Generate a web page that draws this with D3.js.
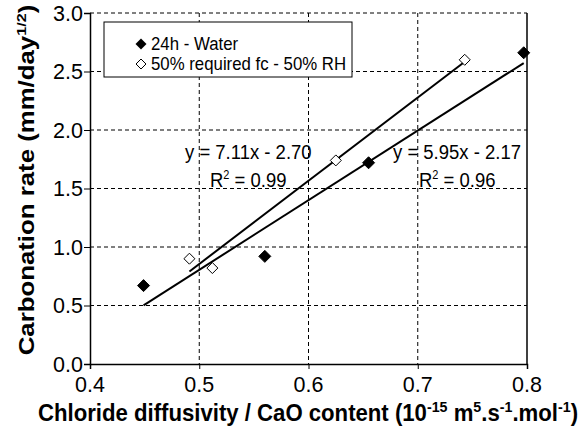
<!DOCTYPE html>
<html><head><meta charset="utf-8">
<script src="https://cdn.jsdelivr.net/npm/d3@7"></script>
<style>body{margin:0;background:#fff}svg{display:block}text{font-family:"Liberation Sans",Arial,sans-serif;fill:#000}</style>
</head><body><svg id="c" width="585" height="440"></svg>
<script>
// Data
const waterX = [0.449, 0.560, 0.655, 0.797];
const waterY = [0.67, 0.92, 1.72, 2.66];
const rhX = [0.491, 0.512, 0.625, 0.743];
const rhY = [0.90, 0.82, 1.74, 2.60];
const waterFit = {slope: 5.95, intercept: -2.17, x0: 0.449, x1: 0.797};
const rhFit = {slope: 7.11, intercept: -2.70, x0: 0.491, x1: 0.743};
const xTicks = [0.4, 0.5, 0.6, 0.7, 0.8];
const yTicks = [0.0, 0.5, 1.0, 1.5, 2.0, 2.5, 3.0];
const legendLabels = ["24h - Water", "50% required fc - 50% RH"];

const svg = d3.select("#c");
const M = {l: 90, r: 527, t: 13, b: 364};
const x = d3.scaleLinear().domain([0.4, 0.8]).range([M.l, M.r]);
const y = d3.scaleLinear().domain([0, 3]).range([M.b, M.t]);
const fmt = d3.format(".1f");

function stext(px, py, size, anchor, sy) {
  return svg.append("text").attr("transform", `translate(${px},${py}) scale(1,${sy || 1.1})`)
    .attr("font-size", size).attr("text-anchor", anchor || "start");
}

// gridlines
const g = svg.append("g");
g.selectAll(".hg").data(yTicks.filter(v => v > 0)).join("line")
  .attr("x1", M.l).attr("x2", M.r).attr("y1", d => y(d)).attr("y2", d => y(d))
  .attr("stroke", "#000").attr("stroke-width", 1).attr("stroke-dasharray", "4,3");
g.selectAll(".vg").data(xTicks.filter(v => v > 0.4 && v < 0.8)).join("line")
  .attr("y1", M.t).attr("y2", M.b).attr("x1", d => x(d)).attr("x2", d => x(d))
  .attr("stroke", "#000").attr("stroke-width", 1).attr("stroke-dasharray", "4,3");
svg.append("line").attr("x1", M.r).attr("x2", M.r).attr("y1", M.t).attr("y2", M.b).attr("stroke", "#000").attr("stroke-width", 1.5);

// axes (ticks + domain)
const xa = svg.append("g").attr("transform", `translate(0,${M.b})`)
  .call(d3.axisBottom(x).tickValues(xTicks).tickFormat("").tickSize(5));
const ya = svg.append("g").attr("transform", `translate(${M.l},0)`)
  .call(d3.axisLeft(y).tickValues(yTicks).tickFormat("").tickSize(6));
[xa, ya].forEach(a => {
  a.select(".domain").attr("stroke", "#000").attr("stroke-width", 1.5);
  a.selectAll("line").attr("stroke", "#000");
});
// tick labels
xTicks.forEach(v => stext(x(v), 392, 21.5, "middle", 1.05).text(fmt(v)));
yTicks.forEach(v => stext(83, y(v) + 7.5, 21.5, "end", 1.05).text(fmt(v)));

// trend lines
function fitLine(f) {
  return [[f.x0, f.slope * f.x0 + f.intercept], [f.x1, f.slope * f.x1 + f.intercept]];
}
const line = d3.line().x(d => x(d[0])).y(d => y(d[1]));
[waterFit, rhFit].forEach(f => {
  svg.append("path").attr("d", line(fitLine(f))).attr("stroke", "#000").attr("stroke-width", 2).attr("fill", "none");
});

// markers
function diamondPath(s) { return `M0,${-s}L${s},0L0,${s}L${-s},0Z`; }
svg.selectAll(".w").data(waterX).join("path")
  .attr("d", diamondPath(6)).attr("transform", (d, i) => `translate(${x(d)},${y(waterY[i])})`)
  .attr("fill", "#000").attr("stroke", "#000");
svg.selectAll(".r").data(rhX).join("path")
  .attr("d", diamondPath(5.5)).attr("transform", (d, i) => `translate(${x(d)},${y(rhY[i])})`)
  .attr("fill", "#fff").attr("stroke", "#000").attr("stroke-width", 1);

// legend
svg.append("rect").attr("x", 104).attr("y", 22).attr("width", 248).attr("height", 55)
  .attr("fill", "#fff").attr("stroke", "#000").attr("stroke-width", 1);
svg.append("path").attr("d", diamondPath(5.5)).attr("transform", "translate(141,44)").attr("fill", "#000");
svg.append("path").attr("d", diamondPath(5)).attr("transform", "translate(141,64)").attr("fill", "#fff").attr("stroke", "#000");
stext(151, 50, 16.8, "start", 1.05).text(legendLabels[0]);
stext(151, 70, 16.8, "start", 1.05).text(legendLabels[1]);

// annotations
function eq(f) { return `y = ${f.slope.toFixed(2)}x - ${(-f.intercept).toFixed(2)}`; }
function r2text(px, py, val) {
  const t = stext(px, py, 18.5);
  t.append("tspan").text("R");
  t.append("tspan").attr("dy", -7).attr("font-size", 11).text("2");
  t.append("tspan").attr("dy", 7).text(" = " + val);
}
stext(185, 159, 18.5).text(eq(rhFit));
r2text(210, 187, "0.99");
stext(393, 159, 18.5).text(eq(waterFit));
r2text(419, 187, "0.96");

// axis titles
function sup(t, s) {
  t.append("tspan").attr("dy", -8).attr("font-size", 13.5).text(s);
}
const xt = stext(38, 421, 21, "start").attr("font-weight", "bold");
xt.append("tspan").text("Chloride diffusivity / CaO content (10");
sup(xt, "-15");
xt.append("tspan").attr("dy", 8).text(" m");
sup(xt, "5");
xt.append("tspan").attr("dy", 8).text(".s");
sup(xt, "-1");
xt.append("tspan").attr("dy", 8).text(".mol");
sup(xt, "-1");
xt.append("tspan").attr("dy", 8).text(")");
// fit the x title to the reference span (x = 38 .. 578)
const w = xt.node().getComputedTextLength();
if (w > 0) xt.attr("transform", `translate(38,421) scale(${540 / w},1.1)`);

const yt = svg.append("text").attr("transform", `translate(34,180) scale(1,1.2) rotate(-90)`)
  .attr("text-anchor", "middle").attr("font-size", 21.5).attr("font-weight", "bold");
yt.append("tspan").text("Carbonation rate (mm/day");
sup(yt, "1/2");
yt.append("tspan").attr("dy", 8).text(")");
</script></body></html>
